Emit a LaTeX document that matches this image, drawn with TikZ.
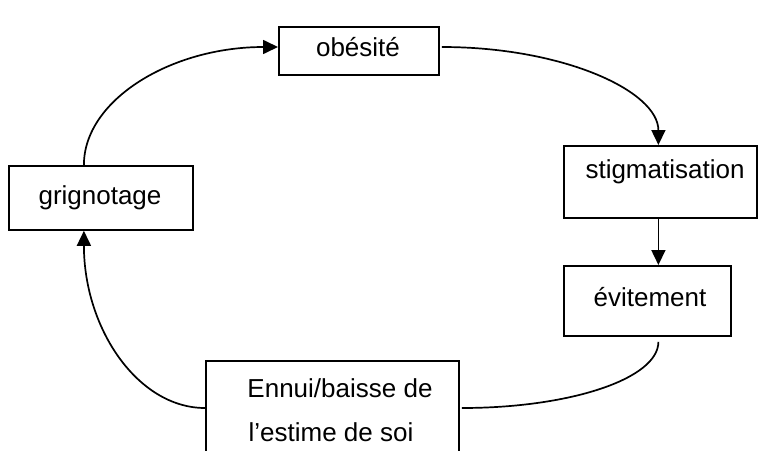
\documentclass[tikz,border=0pt]{standalone}
\usepackage{fontspec}
\setmainfont{Liberation Sans}
\usetikzlibrary{arrows.meta,calc}
\begin{document}
\begin{tikzpicture}[x=1pt,y=-1pt,
  box/.style={draw,line width=1.8pt,inner sep=0pt,anchor=north west},
  lbl/.style={font=\fontsize{26}{30}\selectfont,inner sep=0pt},
  link/.style={line width=1.7pt},
  arr/.style={link,-{Triangle[length=15pt,width=14pt]}}]
\useasboundingbox (0,0) rectangle (768,450);
\clip (0,0) rectangle (768,450);
% boxes
\node[box,minimum width=160pt,minimum height=48pt] (obes) at (278,26) {};
\node[box,minimum width=193pt,minimum height=72pt] (stig) at (563,145) {};
\node[box,minimum width=167pt,minimum height=70pt] (evit) at (563,265) {};
\node[box,minimum width=184pt,minimum height=64pt] (grig) at (8,165) {};
\node[box,minimum width=253pt,minimum height=110pt] (ennui) at (205,360) {};
% labels
\node[lbl] (tobes) at (358,47) {obésité};
\node[lbl] (tstig) at (665,172) {stigmatisation};
\node[lbl] (tevit) at (650,297) {évitement};
\node[lbl] (tgrig) at (100,198) {grignotage};
\node[lbl] (tenn1) at (340,388) {Ennui/baisse de};
\node[lbl] (tenn2) at (331,432) {l’estime de soi};
% connectors
\coordinate (gtop) at ([xshift=-17pt]grig.north);
\coordinate (gbot) at ([xshift=-17pt]grig.south);
\coordinate (stop) at ([xshift=-2pt]stig.north);
\coordinate (sbot) at ([xshift=-2pt]stig.south);
\coordinate (ebot) at ([yshift=-5pt]sbot |- evit.south);
\coordinate (nwest) at ($(ennui.north west)+(0,48)$);
\coordinate (neast) at ($(ennui.north east)+(2,48)$);
\coordinate (owest) at ($(obes.north west)+(0,21)$);
\coordinate (oeast) at ($(obes.north east)+(2,21)$);
\draw[arr] (gtop) .. controls ($(gtop)+(0,-65)$) and ($(owest)+(-107,0)$) .. (owest);
\draw[arr] (oeast) .. controls ($(oeast)+(121,0)$) and ($(stop)+(0,-54)$) .. (stop);
\draw[arr] (sbot) -- (sbot |- evit.north);
\draw[link] (ebot) .. controls ($(ebot)+(0,37)$) and ($(neast)+(108,0)$) .. (neast);
\draw[arr] (nwest) .. controls ($(nwest)+(-67,0)$) and ($(gbot)+(0,98)$) .. (gbot);
\end{tikzpicture}
\end{document}
